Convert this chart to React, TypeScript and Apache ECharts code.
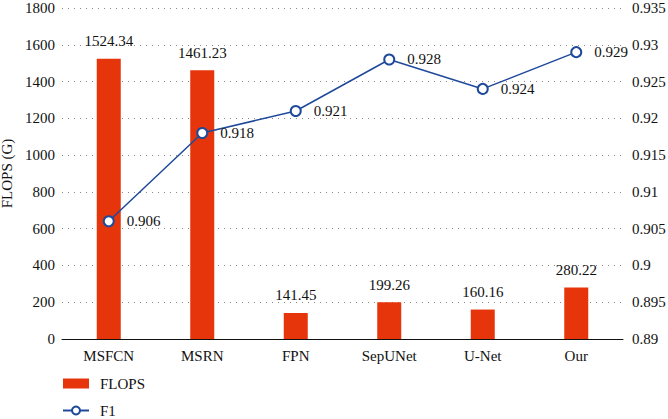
import React, { useEffect, useRef } from "react";
import * as echarts from "echarts";

const categories = ["MSFCN", "MSRN", "FPN", "SepUNet", "U-Net", "Our"];
const flops = [1524.34, 1461.23, 141.45, 199.26, 160.16, 280.22];
const f1 = [0.906, 0.918, 0.921, 0.928, 0.924, 0.929];

const FONT = "Liberation Serif";
const BAR_COLOR = "#e6350b";
const LINE_COLOR = "#1f4a9b";

export default function App() {
  const ref = useRef<HTMLDivElement>(null);
  useEffect(() => {
    if (!ref.current) return;
    const chart = echarts.init(ref.current, null, { renderer: "svg" });
    chart.setOption({
      animation: false,
      textStyle: { fontFamily: FONT, color: "#111" },
      grid: { left: 62, right: 45, top: 8, bottom: 80, containLabel: false, outerBoundsMode: "none" },
      legend: {
        orient: "vertical",
        left: 62,
        top: 376,
        padding: 0,
        itemWidth: 26,
        itemHeight: 10,
        itemGap: 12,
        textStyle: { fontFamily: FONT, fontSize: 15, color: "#111", padding: [0, 0, 0, 6] },
        data: [
          { name: "FLOPS", icon: "rect" },
          { name: "F1" },
        ],
      },
      xAxis: {
        type: "category",
        data: categories,
        axisLine: { lineStyle: { color: "#111", width: 1 } },
        axisTick: { alignWithLabel: true, length: 5, lineStyle: { color: "#111" } },
        axisLabel: { fontFamily: FONT, fontSize: 15, color: "#111", margin: 9 },
      },
      yAxis: [
        {
          type: "value",
          min: 0,
          max: 1800,
          interval: 200,
          name: "FLOPS (G)",
          nameLocation: "middle",
          nameGap: 42,
          nameTextStyle: { fontFamily: FONT, fontSize: 15, color: "#111" },
          axisLine: { show: false },
          axisTick: { show: false },
          axisLabel: {
            fontFamily: FONT,
            fontSize: 15,
            color: "#111",
            margin: 7,
            formatter: (v: number) => String(v),
          },
          splitLine: { lineStyle: { type: [1, 5], color: "#888", width: 1 } },
        },
        {
          type: "value",
          min: 0.89,
          max: 0.935,
          interval: 0.005,
          axisLine: { show: false },
          axisTick: { show: false },
          axisLabel: {
            fontFamily: FONT,
            fontSize: 15,
            color: "#111",
            margin: 9,
            formatter: (v: number) => String(parseFloat(v.toFixed(3))),
          },
          splitLine: { show: false },
        },
      ],
      series: [
        {
          name: "FLOPS",
          type: "bar",
          data: flops,
          barWidth: 24,
          itemStyle: { color: BAR_COLOR },
          label: {
            show: true,
            position: "top",
            distance: 10,
            fontFamily: FONT,
            fontSize: 15,
            color: "#111",
          },
        },
        {
          name: "F1",
          type: "line",
          yAxisIndex: 1,
          data: f1,
          symbol: "emptyCircle",
          symbolSize: 10,
          lineStyle: { color: LINE_COLOR, width: 1.5 },
          itemStyle: { color: LINE_COLOR, borderWidth: 1.5 },
          label: {
            show: true,
            position: "right",
            distance: 12,
            fontFamily: FONT,
            fontSize: 15,
            color: "#111",
          },
        },
      ],
    });
    return () => chart.dispose();
  }, []);
  return <div ref={ref} style={{ width: 668, height: 419, position: "absolute", left: 0, top: 0 }} />;
}
